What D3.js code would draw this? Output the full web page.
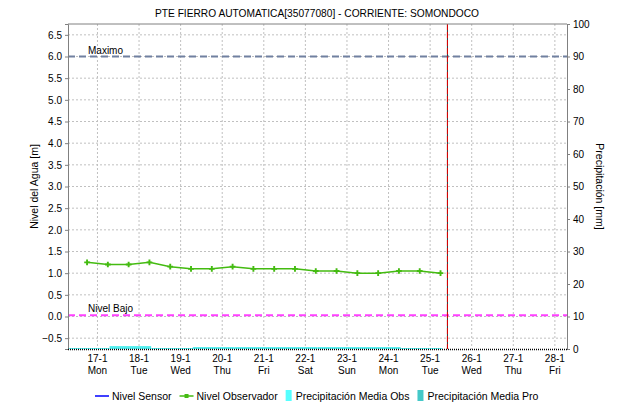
<!DOCTYPE html>
<html>
<head>
<meta charset="utf-8">
<script src="https://cdn.jsdelivr.net/npm/d3@7"></script>
<style>
  body { margin: 0; background: #fff; }
  text { font-family: "Liberation Sans", Arial, sans-serif; fill: #000; }
</style>
</head>
<body>
<div class="canvas"></div>
<script>
// observer level readings, every 12 h
let obsTimes = ["2022-01-16T18:00","2022-01-17T06:00","2022-01-17T18:00","2022-01-18T06:00","2022-01-18T18:00",
  "2022-01-19T06:00","2022-01-19T18:00","2022-01-20T06:00","2022-01-20T18:00","2022-01-21T06:00",
  "2022-01-21T18:00","2022-01-22T06:00","2022-01-22T18:00","2022-01-23T06:00","2022-01-23T18:00",
  "2022-01-24T06:00","2022-01-24T18:00","2022-01-25T06:00"]
let obsLevel = [1.25,1.20,1.20,1.25,1.15,1.10,1.10,1.15,1.10,1.10,1.10,1.05,1.05,1.00,1.00,1.05,1.05,1.00]

// daily rain (07:00 -> 07:00)
let rainDays = ["2022-01-16","2022-01-17","2022-01-18","2022-01-19","2022-01-20","2022-01-21","2022-01-22","2022-01-23","2022-01-24"]
let rainObs = [0.3,0.9,0.3,0.6,0.6,0.6,0.6,0.6,0.3]

let levelTicks = [-0.5,0,0.5,1,1.5,2,2.5,3,3.5,4,4.5,5,5.5,6,6.5]
let rainTicks = [0,10,20,30,40,50,60,70,80,90,100]
let maxLevel = 6.0, lowLevel = 0.03
let nowTime = "2022-01-25T10:00"
let dayNames = ["Sun","Mon","Tue","Wed","Thu","Fri","Sat"]

let dim = { width:618, height:405 }
let m = { left:68, right:51, top:24, bottom:56 }
let w = dim.width - m.left - m.right, h = dim.height - m.top - m.bottom

let svg = d3.select(".canvas").append("svg").attr("width",dim.width).attr("height",dim.height)
let graph = svg.append("g").attr("transform",`translate(${m.left},${m.top})`)

const x = d3.scaleTime().domain([new Date("2022-01-16T07:00"), new Date("2022-01-28T07:00")]).range([0,w])
const y = d3.scaleLinear().domain([-0.75,6.75]).range([h,0])
const y2 = d3.scaleLinear().domain([0,100]).range([h,0])
const dayTicks = d3.timeDay.range(new Date("2022-01-17T00:00"), new Date("2022-01-28T01:00"))

// grid
graph.append("g").selectAll("line").data(levelTicks).join("line")
  .attr("x1",0).attr("x2",w).attr("y1",d=>y(d)).attr("y2",d=>y(d))
  .attr("stroke","#c0c0c0").attr("stroke-dasharray","2,2")
graph.append("g").selectAll("line").data(dayTicks).join("line")
  .attr("x1",d=>x(d)).attr("x2",d=>x(d)).attr("y1",0).attr("y2",h)
  .attr("stroke","#c0c0c0").attr("stroke-dasharray","2,2")

// rain bars
graph.append("g").selectAll("rect").data(rainDays).join("rect")
  .attr("x",d=>x(new Date(d+"T07:00")))
  .attr("width",d=>x(d3.timeDay.offset(new Date(d+"T07:00"),1)) - x(new Date(d+"T07:00")))
  .attr("y",(d,i)=>y2(rainObs[i])).attr("height",(d,i)=>h - y2(rainObs[i]))
  .attr("fill","#55f0f0")

// reference lines
graph.append("line").attr("x1",0).attr("x2",w).attr("y1",y(maxLevel)).attr("y2",y(maxLevel))
  .attr("stroke","#7080a0").attr("stroke-width",2).attr("stroke-dasharray","7,4")
graph.append("text").attr("x",20).attr("y",y(maxLevel)-3).attr("font-size",10).text("Maximo")
graph.append("line").attr("x1",0).attr("x2",w).attr("y1",y(lowLevel)).attr("y2",y(lowLevel))
  .attr("stroke","#ff40ff").attr("stroke-width",2).attr("stroke-dasharray","7,4")
graph.append("text").attr("x",20).attr("y",y(lowLevel)-3).attr("font-size",10).text("Nivel Bajo")

// observer line
const pts = obsTimes.map((t,i)=>[x(new Date(t)), y(obsLevel[i])])
graph.append("path").attr("d",d3.line()(pts)).attr("fill","none").attr("stroke","#44bb11").attr("stroke-width",1.5)
graph.append("g").selectAll("path").data(pts).join("path")
  .attr("transform",d=>`translate(${d[0]},${d[1]})`)
  .attr("d",d3.symbol(d3.symbolCross,18)).attr("fill","#44bb11")

// now line
graph.append("line").attr("x1",x(new Date(nowTime))).attr("x2",x(new Date(nowTime))).attr("y1",0).attr("y2",h)
  .attr("stroke","#333").attr("stroke-width",1)
graph.append("line").attr("x1",x(new Date(nowTime))).attr("x2",x(new Date(nowTime))).attr("y1",0).attr("y2",h)
  .attr("stroke","#e00000").attr("stroke-width",1).attr("stroke-dasharray","6,2")

// axes
const la = graph.append("g").call(d3.axisLeft(y).tickValues(levelTicks).tickFormat(d3.format(".1f")).tickSize(3).tickPadding(3))
const ra = graph.append("g").attr("transform",`translate(${w},0)`).call(d3.axisRight(y2).tickValues(rainTicks).tickSize(3).tickPadding(3))
;[la,ra].forEach(a=>{
  a.select(".domain").attr("stroke","#808080")
  a.selectAll(".tick line").attr("stroke","#808080")
  a.selectAll("text").attr("font-size",10).attr("font-family","Liberation Sans, Arial, sans-serif")
})
graph.append("line").attr("x1",0).attr("x2",w).attr("y1",0).attr("y2",0).attr("stroke","#808080")
graph.append("line").attr("x1",0).attr("x2",w).attr("y1",h+0.5).attr("y2",h+0.5)
  .attr("stroke","#000").attr("stroke-width",1.5).attr("stroke-dasharray","1,1")

const xl = graph.append("g").selectAll("text").data(dayTicks).join("text")
  .attr("x",d=>x(d)).attr("text-anchor","middle").attr("font-size",10)
xl.append("tspan").attr("x",d=>x(d)).attr("y",h+13).text(d=>d.getDate()+"-"+(d.getMonth()+1))
xl.append("tspan").attr("x",d=>x(d)).attr("y",h+25).text(d=>dayNames[d.getDay()])

// titles
svg.append("text").attr("x",317).attr("y",17).attr("text-anchor","middle").attr("font-size",10.2)
  .text("PTE FIERRO AUTOMATICA[35077080] - CORRIENTE: SOMONDOCO")
svg.append("text").attr("transform",`translate(38,${m.top+h/2}) rotate(-90)`).attr("text-anchor","middle").attr("font-size",10.5)
  .text("Nivel del Agua [m]")
svg.append("text").attr("transform",`translate(596,${m.top+h/2}) rotate(90)`).attr("text-anchor","middle").attr("font-size",10.5)
  .text("Precipitación [mm]")

// legend
const leg = svg.append("g").attr("transform","translate(0,396)")
let lx = 95
const items = [["Nivel Sensor","line","#0000ff"],["Nivel Observador","mark","#44bb11"],
  ["Precipitación Media Obs","rect","#55ffff"],["Precipitación Media Pro","rect","#44c8c8"]]
items.forEach(it=>{
  if(it[1]=="rect"){
    leg.append("rect").attr("x",lx).attr("y",-6).attr("width",6).attr("height",11).attr("fill",it[2])
    lx += 10
  } else {
    leg.append("line").attr("x1",lx).attr("x2",lx+14).attr("y1",0).attr("y2",0).attr("stroke",it[2]).attr("stroke-width",1.5)
    if(it[1]=="mark") leg.append("rect").attr("x",lx+5).attr("y",-2).attr("width",4).attr("height",4).attr("fill",it[2])
    lx += 17
  }
  const t = leg.append("text").attr("x",lx).attr("y",4).attr("font-size",10.5).text(it[0])
  lx += t.node().getComputedTextLength() + 8
})
</script>
</body>
</html>
